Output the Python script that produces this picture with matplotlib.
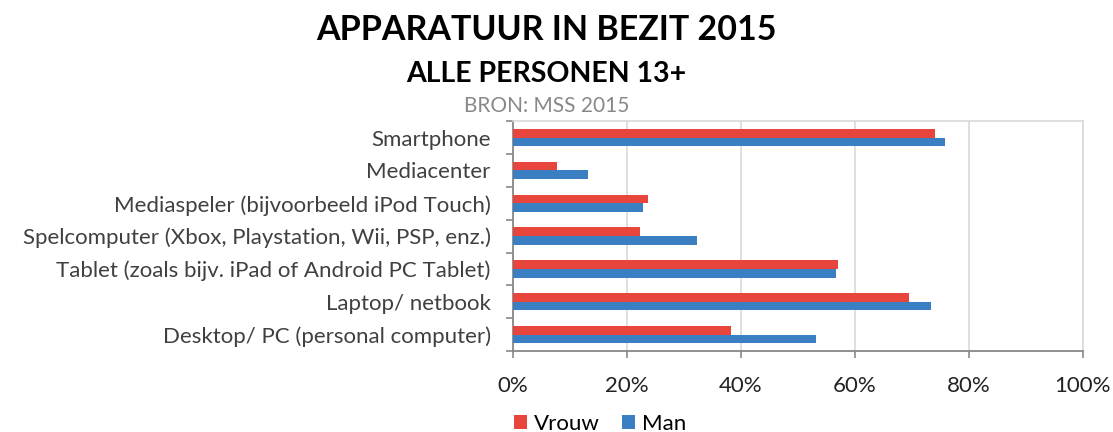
import matplotlib
matplotlib.use("Agg")
import matplotlib.pyplot as plt
import numpy as np
from matplotlib.ticker import PercentFormatter

matplotlib.rcParams['font.family'] = ['Lato', 'DejaVu Sans']

categories = [
    "Desktop/ PC (personal computer)",
    "Laptop/ netbook",
    "Tablet (zoals bijv. iPad of Android PC Tablet)",
    "Spelcomputer (Xbox, Playstation, Wii, PSP, enz.)",
    "Mediaspeler (bijvoorbeeld iPod Touch)",
    "Mediacenter",
    "Smartphone",
]
vrouw = [38.2, 69.4, 57.0, 22.3, 23.7, 7.7, 74.0]
man = [53.1, 73.3, 56.7, 32.3, 22.8, 13.2, 75.8]
xticks = [0, 20, 40, 60, 80, 100]

red = "#E8453C"
blue = "#3A7FC1"

fig = plt.figure(figsize=(11.13, 4.32), dpi=100)
ax = fig.add_axes([0.461, 0.1875, 0.512, 0.532])

y = np.arange(len(categories))
h = 0.265
ax.barh(y + h / 2, vrouw, height=h, color=red, label="Vrouw", zorder=3)
ax.barh(y - h / 2, man, height=h, color=blue, label="Man", zorder=3)

ax.set_xlim(0, 100)
ax.set_ylim(-0.5, len(categories) - 0.5)
ax.set_xticks(xticks)
ax.xaxis.set_major_formatter(PercentFormatter(decimals=0))
ax.set_yticks(y)
ax.set_yticklabels(categories)
ax.set_yticks(np.arange(len(categories) + 1) - 0.5, minor=True)
ax.tick_params(axis="y", which="major", length=0, pad=16, labelsize=16, labelcolor="#404040")
ax.tick_params(axis="y", which="minor", length=5, color="#888888", width=1.2)
ax.tick_params(axis="x", length=5, color="#888888", width=1.2, pad=13, labelsize=16, labelcolor="#222222")
ax.grid(axis="x", color="#d9d9d9", linewidth=1.2, zorder=0)

for s in ["left", "bottom"]:
    ax.spines[s].set_color("#888888")
    ax.spines[s].set_linewidth(1.3)
for s in ["top", "right"]:
    ax.spines[s].set_color("#d9d9d9")
    ax.spines[s].set_linewidth(1.2)

fig.text(0.491, 0.93, "APPARATUUR IN BEZIT 2015", ha="center", va="center",
         fontsize=24.5, fontweight="bold", color="black")
fig.text(0.491, 0.828, "ALLE PERSONEN 13+", ha="center", va="center",
         fontsize=20.5, fontweight="bold", color="black")
fig.text(0.491, 0.755, "BRON: MSS 2015", ha="center", va="center",
         fontsize=15, color="#888888")

handles, labels = ax.get_legend_handles_labels()
fig.legend(handles, labels, loc="lower center", bbox_to_anchor=(0.539, -0.05), ncol=2,
           frameon=False, fontsize=16, handlelength=0.6, handleheight=0.6,
           handletextpad=0.3, columnspacing=1.0)

fig.savefig("out.png", dpi=100)
